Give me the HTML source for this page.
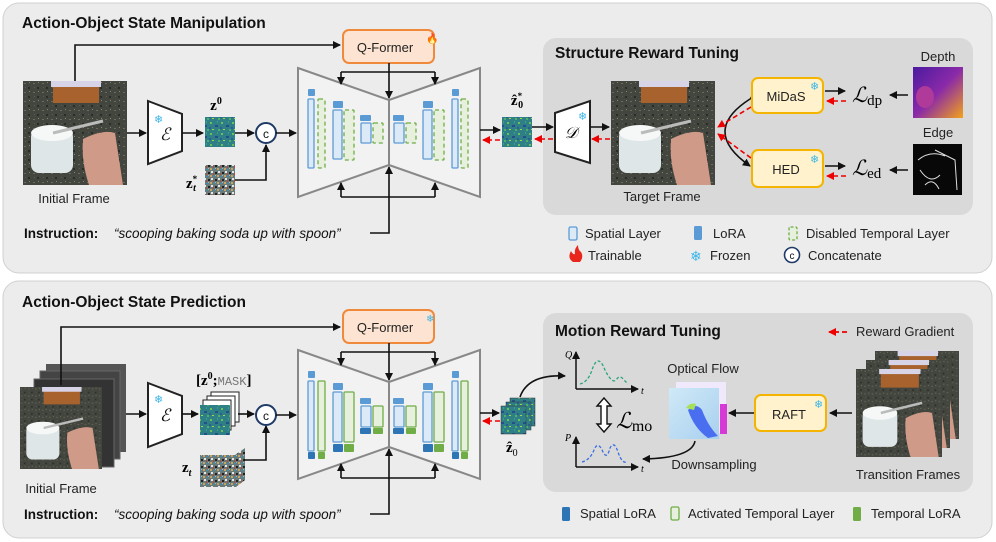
<!DOCTYPE html>
<html><head><meta charset="utf-8"><style>
html,body{margin:0;padding:0;background:#fff;}
svg{display:block;font-family:"Liberation Sans",sans-serif;}
.t{font-size:13px;fill:#222}
.b{font-weight:bold}
.m{font-family:"Liberation Serif",serif}
</style></head><body>
<svg width="996" height="542" viewBox="0 0 996 542" xmlns="http://www.w3.org/2000/svg">
<defs>
<marker id="ah" markerWidth="8" markerHeight="8" refX="7" refY="4" orient="auto" markerUnits="userSpaceOnUse"><path d="M0,0 L8,4 L0,8 z" fill="#111"/></marker>
<marker id="ar" markerWidth="8" markerHeight="8" refX="7" refY="4" orient="auto" markerUnits="userSpaceOnUse"><path d="M0,0 L8,4 L0,8 z" fill="#e00"/></marker>
<pattern id="lat" width="11" height="11" patternUnits="userSpaceOnUse"><rect width="11" height="11" fill="#2f7f86"/><rect x="1" y="1" width="2" height="2" fill="#6fbf5a"/><rect x="6" y="4" width="3" height="2" fill="#254f8a"/><rect x="3" y="8" width="2" height="1" fill="#a8d44a"/><rect x="8" y="0" width="1" height="2" fill="#3aa08a"/><rect x="0" y="6" width="2" height="2" fill="#2a5f8f"/><rect x="9" y="8" width="2" height="2" fill="#4fb06a"/></pattern>
<pattern id="noi" width="7" height="7" patternUnits="userSpaceOnUse"><rect width="7" height="7" fill="#6a7a78"/><rect x="0" y="0" width="2" height="2" fill="#c9a35a"/><rect x="3" y="1" width="2" height="1" fill="#3a8fb8"/><rect x="1" y="3" width="2" height="2" fill="#e6e6e6"/><rect x="5" y="4" width="2" height="2" fill="#222"/><rect x="3" y="5" width="1" height="2" fill="#b04a3a"/><rect x="5" y="0" width="1" height="1" fill="#9bd"/></pattern>
<pattern id="gran" width="9" height="9" patternUnits="userSpaceOnUse"><rect width="9" height="9" fill="#43463e"/><rect x="1" y="2" width="2" height="1" fill="#6b6b5e"/><rect x="5" y="6" width="2" height="2" fill="#2a2c27"/><rect x="6" y="1" width="1" height="1" fill="#8a8470"/><rect x="2" y="6" width="1" height="1" fill="#5a5c50"/></pattern>
<linearGradient id="dep" x1="0" y1="0" x2="1" y2="1"><stop offset="0" stop-color="#4b1aa0"/><stop offset="0.5" stop-color="#8a2aa8"/><stop offset="1" stop-color="#f3a21a"/></linearGradient>
<linearGradient id="flo" x1="0" y1="0" x2="1" y2="1"><stop offset="0" stop-color="#cfe9f7"/><stop offset="1" stop-color="#a9d0ef"/></linearGradient>
<g id="photo">
<rect width="104" height="104" fill="url(#gran)"/>
<rect x="30" y="0" width="46" height="22" fill="#a8622e"/>
<rect x="28" y="0" width="50" height="6" fill="#d8d4e8"/>
<rect x="8" y="48" width="42" height="44" rx="8" fill="#dfe6e8"/>
<ellipse cx="29" cy="52" rx="21" ry="8" fill="#f6f8f8"/>
<path d="M60 58 Q80 48 92 52 L100 104 L66 104 Q58 80 60 58z" fill="#d09a88"/>
<line x1="30" y1="52" x2="80" y2="40" stroke="#bbb" stroke-width="3"/>
</g>
</defs>

<rect x="3" y="3" width="989" height="270" rx="16" fill="#ececec" stroke="#d0d0d0"/>
<rect x="3" y="281" width="989" height="257" rx="16" fill="#ececec" stroke="#d0d0d0"/>
<rect x="543" y="38" width="430" height="177" rx="13" fill="#d9d9d9"/>
<rect x="543" y="313" width="430" height="179" rx="13" fill="#d9d9d9"/>

<text x="22" y="28" class="b" font-size="15.5" fill="#111">Action-Object State Manipulation</text>
<text x="22" y="307" class="b" font-size="15.5" fill="#111">Action-Object State Prediction</text>
<text x="555" y="58" class="b" font-size="15.5" fill="#111">Structure Reward Tuning</text>
<text x="555" y="336" class="b" font-size="15.5" fill="#111">Motion Reward Tuning</text>

<use href="#photo" x="23" y="81"/>
<text x="74" y="203" class="t" text-anchor="middle" font-size="13.5">Initial Frame</text>
<polyline points="75,81 75,45 340,45" fill="none" stroke="#111" stroke-width="1.6" marker-end="url(#ah)"/>
<rect x="343" y="30" width="91" height="33" rx="6" fill="#fde4d2" stroke="#ef8a3c" stroke-width="2"/>
<text x="385" y="52" class="t" text-anchor="middle" font-size="14.5">Q-Former</text>
<text x="426" y="42" font-size="10" fill="#e22">&#x1F525;</text>

<polygon points="148,101 182,114 182,151 148,164" fill="#fff" stroke="#222" stroke-width="2"/>
<text x="154" y="123" font-size="11" fill="#3ab6e8">❄</text>
<text x="165" y="140" class="m" font-size="17" font-style="italic" text-anchor="middle" fill="#111">ℰ</text>
<line x1="127" y1="133" x2="146" y2="133" stroke="#111" stroke-width="1.6" marker-end="url(#ah)"/>
<line x1="182" y1="133" x2="203" y2="133" stroke="#111" stroke-width="1.6" marker-end="url(#ah)"/>
<rect x="205" y="117" width="30" height="30" fill="url(#lat)"/>
<text x="216" y="110" class="m b" font-size="15" text-anchor="middle">z<tspan font-size="10" dy="-6">0</tspan></text>
<rect x="205" y="165" width="30" height="30" fill="url(#noi)"/>
<text x="186" y="188" class="m b" font-size="15">z<tspan font-size="9" dy="-6">*</tspan><tspan font-size="10" dx="-4" dy="9" font-style="italic">t</tspan></text>
<line x1="235" y1="133" x2="254" y2="133" stroke="#111" stroke-width="1.6" marker-end="url(#ah)"/>
<polyline points="235,180 266,180 266,145" fill="none" stroke="#111" stroke-width="1.6" marker-end="url(#ah)"/>
<circle cx="266" cy="133" r="10" fill="#fff" stroke="#1f3a66" stroke-width="2"/>
<text x="266" y="138" text-anchor="middle" font-size="12" fill="#111">c</text>
<line x1="276" y1="133" x2="296" y2="133" stroke="#111" stroke-width="1.6" marker-end="url(#ah)"/>

<polygon points="298,68 389,100 389,165 298,197" fill="#f2f2f2" stroke="#888" stroke-width="2"/>
<polygon points="480,68 389,100 389,165 480,197" fill="#f2f2f2" stroke="#888" stroke-width="2"/>
<line x1="389" y1="63" x2="389" y2="98" stroke="#111" stroke-width="1.6" marker-end="url(#ah)"/>
<polyline points="341,72 435,72" fill="none" stroke="#111" stroke-width="1.6"/>
<line x1="341" y1="72" x2="341" y2="84" stroke="#111" stroke-width="1.6" marker-end="url(#ah)"/>
<line x1="435" y1="72" x2="435" y2="84" stroke="#111" stroke-width="1.6" marker-end="url(#ah)"/>
<polyline points="341,197 435,197" fill="none" stroke="#111" stroke-width="1.6"/>
<line x1="341" y1="197" x2="341" y2="183" stroke="#111" stroke-width="1.6" marker-end="url(#ah)"/>
<line x1="435" y1="197" x2="435" y2="183" stroke="#111" stroke-width="1.6" marker-end="url(#ah)"/>
<polyline points="370,233 389,233 389,167" fill="none" stroke="#111" stroke-width="1.6" marker-end="url(#ah)"/>
<g fill="#5b9bd5">
<rect x="308" y="89" width="7" height="7" rx="1"/><rect x="333" y="101" width="10" height="7" rx="1"/><rect x="360" y="115" width="11" height="6" rx="1"/>
<rect x="393" y="115" width="11" height="6" rx="1"/><rect x="423" y="101" width="10" height="7" rx="1"/><rect x="452" y="89" width="7" height="7" rx="1"/>
</g>
<g fill="#dce9f7" stroke="#5b9bd5" stroke-width="1.3">
<rect x="308" y="99" width="6" height="69" rx="1"/><rect x="333" y="110" width="9" height="49" rx="1"/><rect x="361" y="123" width="10" height="20" rx="1"/>
<rect x="394" y="123" width="10" height="20" rx="1"/><rect x="423" y="110" width="9" height="49" rx="1"/><rect x="452" y="99" width="6" height="69" rx="1"/>
</g>
<g fill="#e6f0dc" stroke="#70ad47" stroke-width="1.3" stroke-dasharray="4,3">
<rect x="318" y="99" width="7" height="69" rx="1"/><rect x="344" y="110" width="10" height="50" rx="1"/><rect x="373" y="123" width="10" height="20" rx="1"/>
<rect x="406" y="123" width="10" height="20" rx="1"/><rect x="434" y="110" width="10" height="50" rx="1"/><rect x="461" y="99" width="7" height="69" rx="1"/>
</g>
<line x1="480" y1="130" x2="500" y2="130" stroke="#111" stroke-width="1.6" marker-end="url(#ah)"/>
<rect x="502" y="117" width="30" height="30" fill="url(#lat)"/>
<text x="517" y="105" class="m b" font-size="15" text-anchor="middle">ẑ<tspan font-size="9" dy="-6">*</tspan><tspan font-size="10" dx="-4" dy="9">0</tspan></text>
<line x1="500" y1="140" x2="483" y2="140" stroke="#e00" stroke-width="1.6" stroke-dasharray="5,3" marker-end="url(#ar)"/>
<line x1="532" y1="127" x2="553" y2="127" stroke="#111" stroke-width="1.6" marker-end="url(#ah)"/>
<line x1="553" y1="139" x2="535" y2="139" stroke="#e00" stroke-width="1.6" stroke-dasharray="5,3" marker-end="url(#ar)"/>
<polygon points="555,113 590,101 590,163 555,152" fill="#fff" stroke="#222" stroke-width="2"/>
<text x="578" y="120" font-size="11" fill="#3ab6e8">❄</text>
<text x="571" y="138" class="m" font-size="16" font-style="italic" text-anchor="middle">𝒟</text>
<line x1="590" y1="127" x2="609" y2="127" stroke="#111" stroke-width="1.6" marker-end="url(#ah)"/>
<line x1="610" y1="139" x2="592" y2="139" stroke="#e00" stroke-width="1.6" stroke-dasharray="5,3" marker-end="url(#ar)"/>
<use href="#photo" x="611" y="81"/>
<text x="662" y="201" class="t" text-anchor="middle" font-size="13.5">Target Frame</text>

<path d="M750,99 Q700,131 750,166" fill="none" stroke="#111" stroke-width="1.6" marker-start="url(#ah)" marker-end="url(#ah)"/>
<line x1="751" y1="107" x2="718" y2="127" stroke="#e00" stroke-width="1.6" stroke-dasharray="5,3" marker-end="url(#ar)"/>
<line x1="751" y1="158" x2="718" y2="134" stroke="#e00" stroke-width="1.6" stroke-dasharray="5,3" marker-end="url(#ar)"/>
<rect x="752" y="78" width="71" height="35" rx="6" fill="#fff2cc" stroke="#f5b400" stroke-width="2"/>
<text x="786" y="101" class="t" text-anchor="middle" font-size="14">MiDaS</text>
<text x="810" y="90" font-size="11" fill="#3ab6e8">❄</text>
<rect x="752" y="150" width="71" height="37" rx="6" fill="#fff2cc" stroke="#f5b400" stroke-width="2"/>
<text x="786" y="174" class="t" text-anchor="middle" font-size="14">HED</text>
<text x="810" y="163" font-size="11" fill="#3ab6e8">❄</text>
<line x1="825" y1="91" x2="845" y2="91" stroke="#111" stroke-width="1.6" marker-end="url(#ah)"/>
<line x1="846" y1="101" x2="827" y2="101" stroke="#e00" stroke-width="1.6" stroke-dasharray="5,3" marker-end="url(#ar)"/>
<line x1="825" y1="166" x2="845" y2="166" stroke="#111" stroke-width="1.6" marker-end="url(#ah)"/>
<line x1="846" y1="176" x2="827" y2="176" stroke="#e00" stroke-width="1.6" stroke-dasharray="5,3" marker-end="url(#ar)"/>
<text x="852" y="102" class="m" font-size="21" font-style="italic">ℒ<tspan font-style="normal" font-size="15" dy="3">dp</tspan></text>
<text x="852" y="175" class="m" font-size="21" font-style="italic">ℒ<tspan font-style="normal" font-size="15" dy="3">ed</tspan></text>
<line x1="908" y1="95" x2="890" y2="95" stroke="#111" stroke-width="1.6" marker-end="url(#ah)"/>
<line x1="908" y1="170" x2="890" y2="170" stroke="#111" stroke-width="1.6" marker-end="url(#ah)"/>
<text x="938" y="61" class="t" text-anchor="middle" font-size="13.5">Depth</text>
<rect x="913" y="67" width="50" height="51" fill="url(#dep)"/>
<ellipse cx="925" cy="97" rx="9" ry="11" fill="#b03a9a"/>
<text x="938" y="137" class="t" text-anchor="middle" font-size="13.5">Edge</text>
<rect x="913" y="144" width="49" height="51" fill="#080808"/>
<path d="M918,160 Q930,150 945,156 M920,170 q10,15 20,5 M935,150 l20,10 l2,30 M925,185 q8,-8 14,4" fill="none" stroke="#ddd" stroke-width="1"/>

<text x="24" y="238" class="b" font-size="13.5" fill="#111">Instruction:</text>
<text x="114" y="238" font-size="13.5" font-style="italic" fill="#111">“scooping baking soda up with spoon”</text>

<rect x="569" y="227" width="8" height="13" rx="1.5" fill="#dce9f7" stroke="#5b9bd5" stroke-width="1.3"/>
<text x="585" y="238" class="t">Spatial Layer</text>
<rect x="694" y="226" width="8" height="14" rx="1.5" fill="#5b9bd5"/>
<text x="713" y="238" class="t">LoRA</text>
<rect x="789" y="227" width="8" height="13" rx="1.5" fill="#e6f0dc" stroke="#70ad47" stroke-width="1.3" stroke-dasharray="3,2"/>
<text x="806" y="238" class="t">Disabled Temporal Layer</text>
<path d="M573,262 q-6,-4 -2,-11 q2,4 4,3 q-1,-5 3,-9 q0,5 3,7 q3,5 -1,10 z" fill="#e8261c"/>
<text x="588" y="260" class="t">Trainable</text>
<text x="690" y="261" font-size="14" fill="#3ab6e8">❄</text>
<text x="710" y="260" class="t">Frozen</text>
<circle cx="792" cy="255" r="7.5" fill="#fff" stroke="#1f3a66" stroke-width="1.6"/>
<text x="792" y="259" text-anchor="middle" font-size="10" fill="#111">c</text>
<text x="808" y="260" class="t">Concatenate</text>

<rect x="46" y="364" width="80" height="88" fill="#555"/>
<rect x="40" y="371" width="80" height="88" fill="#444" stroke="#666"/>
<rect x="34" y="379" width="80" height="88" fill="#333" stroke="#666"/>
<svg x="20" y="387" width="82" height="82" viewBox="0 0 104 104" preserveAspectRatio="none"><use href="#photo"/></svg>
<text x="61" y="493" class="t" text-anchor="middle" font-size="13.5">Initial Frame</text>
<polyline points="61,385 61,327 340,327" fill="none" stroke="#111" stroke-width="1.6" marker-end="url(#ah)"/>
<rect x="343" y="310" width="91" height="33" rx="6" fill="#fde4d2" stroke="#ef8a3c" stroke-width="2"/>
<text x="385" y="332" class="t" text-anchor="middle" font-size="14.5">Q-Former</text>
<text x="426" y="322" font-size="10" fill="#3ab6e8">❄</text>

<polygon points="148,383 182,396 182,434 148,447" fill="#fff" stroke="#222" stroke-width="2"/>
<text x="154" y="403" font-size="11" fill="#3ab6e8">❄</text>
<text x="165" y="421" class="m" font-size="17" font-style="italic" text-anchor="middle">ℰ</text>
<line x1="126" y1="414" x2="146" y2="414" stroke="#111" stroke-width="1.6" marker-end="url(#ah)"/>
<line x1="182" y1="414" x2="198" y2="414" stroke="#111" stroke-width="1.6" marker-end="url(#ah)"/>
<text x="196" y="385" class="m b" font-size="15">[z<tspan font-size="10" dy="-6">0</tspan><tspan dy="6">;</tspan><tspan font-family="Liberation Mono" font-weight="normal" font-size="12" fill="#777">MASK</tspan>]</text>
<rect x="211" y="392" width="28" height="30" fill="#fff" stroke="#222"/>
<rect x="207" y="396" width="28" height="30" fill="#fff" stroke="#222"/>
<rect x="203" y="400" width="28" height="30" fill="#fff" stroke="#222"/>
<rect x="200" y="405" width="30" height="30" fill="url(#lat)"/>
<polygon points="200,455 235,455 245,448 245,480 236,487 200,487" fill="url(#noi)"/>
<text x="182" y="472" class="m b" font-size="15">z<tspan font-size="10" dy="4" font-style="italic">t</tspan></text>
<line x1="238" y1="414" x2="254" y2="414" stroke="#111" stroke-width="1.6" marker-end="url(#ah)"/>
<polyline points="244,460 266,460 266,426" fill="none" stroke="#111" stroke-width="1.6" marker-end="url(#ah)"/>
<circle cx="266" cy="415" r="10" fill="#fff" stroke="#1f3a66" stroke-width="2"/>
<text x="266" y="420" text-anchor="middle" font-size="12" fill="#111">c</text>
<line x1="276" y1="415" x2="296" y2="415" stroke="#111" stroke-width="1.6" marker-end="url(#ah)"/>

<polygon points="298,350 389,382 389,447 298,479" fill="#f2f2f2" stroke="#888" stroke-width="2"/>
<polygon points="480,350 389,382 389,447 480,479" fill="#f2f2f2" stroke="#888" stroke-width="2"/>
<line x1="389" y1="343" x2="389" y2="380" stroke="#111" stroke-width="1.6" marker-end="url(#ah)"/>
<polyline points="341,352 435,352" fill="none" stroke="#111" stroke-width="1.6"/>
<line x1="341" y1="352" x2="341" y2="365" stroke="#111" stroke-width="1.6" marker-end="url(#ah)"/>
<line x1="435" y1="352" x2="435" y2="365" stroke="#111" stroke-width="1.6" marker-end="url(#ah)"/>
<polyline points="341,478 435,478" fill="none" stroke="#111" stroke-width="1.6"/>
<line x1="341" y1="478" x2="341" y2="464" stroke="#111" stroke-width="1.6" marker-end="url(#ah)"/>
<line x1="435" y1="478" x2="435" y2="464" stroke="#111" stroke-width="1.6" marker-end="url(#ah)"/>
<polyline points="370,514 389,514 389,449" fill="none" stroke="#111" stroke-width="1.6" marker-end="url(#ah)"/>
<g fill="#5b9bd5">
<rect x="308" y="371" width="7" height="7" rx="1"/><rect x="333" y="383" width="10" height="7" rx="1"/><rect x="360" y="398" width="11" height="6" rx="1"/>
<rect x="393" y="398" width="11" height="6" rx="1"/><rect x="423" y="383" width="10" height="7" rx="1"/><rect x="452" y="371" width="7" height="7" rx="1"/>
</g>
<g fill="#dce9f7" stroke="#5b9bd5" stroke-width="1.3">
<rect x="308" y="381" width="6" height="70" rx="1"/><rect x="333" y="392" width="9" height="50" rx="1"/><rect x="361" y="406" width="10" height="21" rx="1"/>
<rect x="394" y="406" width="10" height="21" rx="1"/><rect x="423" y="392" width="9" height="50" rx="1"/><rect x="452" y="381" width="6" height="70" rx="1"/>
</g>
<g fill="#e6f0dc" stroke="#70ad47" stroke-width="1.3">
<rect x="318" y="381" width="7" height="70" rx="1"/><rect x="344" y="392" width="10" height="50" rx="1"/><rect x="373" y="406" width="10" height="21" rx="1"/>
<rect x="406" y="406" width="10" height="21" rx="1"/><rect x="434" y="392" width="10" height="50" rx="1"/><rect x="461" y="381" width="7" height="70" rx="1"/>
</g>
<g fill="#2e75b6">
<rect x="308" y="452" width="7" height="7" rx="1"/><rect x="333" y="444" width="10" height="8" rx="1"/><rect x="360" y="428" width="11" height="6" rx="1"/>
<rect x="393" y="428" width="11" height="6" rx="1"/><rect x="423" y="444" width="10" height="8" rx="1"/><rect x="452" y="452" width="7" height="7" rx="1"/>
</g>
<g fill="#70ad47">
<rect x="318" y="452" width="7" height="7" rx="1"/><rect x="344" y="444" width="10" height="8" rx="1"/><rect x="373" y="428" width="10" height="6" rx="1"/>
<rect x="406" y="428" width="10" height="6" rx="1"/><rect x="434" y="444" width="10" height="8" rx="1"/><rect x="461" y="452" width="7" height="7" rx="1"/>
</g>
<line x1="480" y1="413" x2="499" y2="413" stroke="#111" stroke-width="1.6" marker-end="url(#ah)"/>
<line x1="500" y1="421" x2="483" y2="421" stroke="#e00" stroke-width="1.6" stroke-dasharray="5,3" marker-end="url(#ar)"/>
<rect x="510" y="398" width="25" height="28" fill="url(#lat)" stroke="#333" stroke-width="0.5"/>
<rect x="506" y="402" width="25" height="28" fill="url(#lat)" stroke="#333" stroke-width="0.5"/>
<rect x="501" y="406" width="25" height="28" fill="url(#lat)" stroke="#333" stroke-width="0.5"/>
<text x="506" y="452" class="m b" font-size="15">ẑ<tspan font-size="10" dy="4" font-weight="normal">0</tspan></text>
<path d="M520,397 Q528,374 565,376" fill="none" stroke="#111" stroke-width="1.6" marker-end="url(#ah)"/>

<line x1="576" y1="389" x2="576" y2="352" stroke="#111" stroke-width="1.5" marker-end="url(#ah)"/>
<line x1="576" y1="389" x2="638" y2="389" stroke="#111" stroke-width="1.5" marker-end="url(#ah)"/>
<text x="565" y="358" class="m" font-style="italic" font-size="10">Q</text>
<text x="641" y="394" class="m" font-style="italic" font-size="10">t</text>
<path d="M580,384 Q588,382 592,370 Q598,352 605,370 Q612,384 616,380 Q620,374 624,380 L628,384" fill="none" stroke="#2aa57a" stroke-width="1.3" stroke-dasharray="3,2"/>
<line x1="576" y1="467" x2="576" y2="437" stroke="#111" stroke-width="1.5" marker-end="url(#ah)"/>
<line x1="576" y1="467" x2="638" y2="467" stroke="#111" stroke-width="1.5" marker-end="url(#ah)"/>
<text x="565" y="441" class="m" font-style="italic" font-size="10">P</text>
<text x="641" y="472" class="m" font-style="italic" font-size="10">t</text>
<path d="M582,462 Q590,460 594,450 Q598,440 603,452 Q607,460 610,448 Q614,440 618,452 Q622,464 627,462" fill="none" stroke="#3a6fe0" stroke-width="1.3" stroke-dasharray="3,2"/>
<path d="M604,398 l-7,8 h4 v18 h-4 l7,8 l7,-8 h-4 v-18 h4 z" fill="#fff" stroke="#111" stroke-width="1.4"/>
<text x="616" y="428" class="m" font-size="22" font-style="italic">ℒ<tspan font-style="normal" font-size="16" dy="3">mo</tspan></text>

<text x="703" y="373" class="t" text-anchor="middle" font-size="13.5">Optical Flow</text>
<rect x="676" y="382" width="50" height="51" fill="#f0e8fb"/>
<rect x="720" y="404" width="7" height="30" fill="#d63ad6"/>
<rect x="669" y="388" width="50" height="51" fill="url(#flo)"/>
<path d="M688,410 q8,-8 14,0 q6,16 16,26 l-10,2 q-14,-10 -20,-28z" fill="#4a6ef0"/>
<path d="M686,408 q4,-6 10,-4 l-2,6z" fill="#a6e05a"/>
<path d="M695,441 Q692,458 643,459" fill="none" stroke="#111" stroke-width="1.6" marker-end="url(#ah)"/>
<text x="714" y="469" class="t" text-anchor="middle" font-size="13.5">Downsampling</text>

<rect x="755" y="395" width="71" height="36" rx="6" fill="#fff2cc" stroke="#f5b400" stroke-width="2"/>
<text x="789" y="419" class="t" text-anchor="middle" font-size="14">RAFT</text>
<text x="814" y="408" font-size="11" fill="#3ab6e8">❄</text>
<line x1="754" y1="413" x2="729" y2="413" stroke="#111" stroke-width="1.6" marker-end="url(#ah)"/>
<line x1="852" y1="413" x2="830" y2="413" stroke="#111" stroke-width="1.6" marker-end="url(#ah)"/>
<svg x="875" y="351" width="84" height="88" viewBox="0 0 104 104" preserveAspectRatio="none"><use href="#photo"/></svg>
<svg x="866" y="360" width="84" height="88" viewBox="0 0 104 104" preserveAspectRatio="none"><use href="#photo"/></svg>
<svg x="856" y="369" width="86" height="88" viewBox="0 0 104 104" preserveAspectRatio="none"><use href="#photo"/></svg>
<text x="908" y="479" class="t" text-anchor="middle" font-size="13.5">Transition Frames</text>

<line x1="847" y1="332" x2="829" y2="332" stroke="#e00" stroke-width="1.8" stroke-dasharray="5,3" marker-end="url(#ar)"/>
<text x="856" y="336" class="t">Reward Gradient</text>

<text x="24" y="519" class="b" font-size="13.5" fill="#111">Instruction:</text>
<text x="114" y="519" font-size="13.5" font-style="italic" fill="#111">“scooping baking soda up with spoon”</text>

<rect x="562" y="507" width="8" height="14" rx="1.5" fill="#2e75b6"/>
<text x="580" y="518" class="t">Spatial LoRA</text>
<rect x="671" y="507" width="8" height="13" rx="1.5" fill="#e6f0dc" stroke="#70ad47" stroke-width="1.3"/>
<text x="688" y="518" class="t">Activated Temporal Layer</text>
<rect x="853" y="507" width="8" height="14" rx="1.5" fill="#70ad47"/>
<text x="871" y="518" class="t">Temporal LoRA</text>
</svg>
</body></html>
